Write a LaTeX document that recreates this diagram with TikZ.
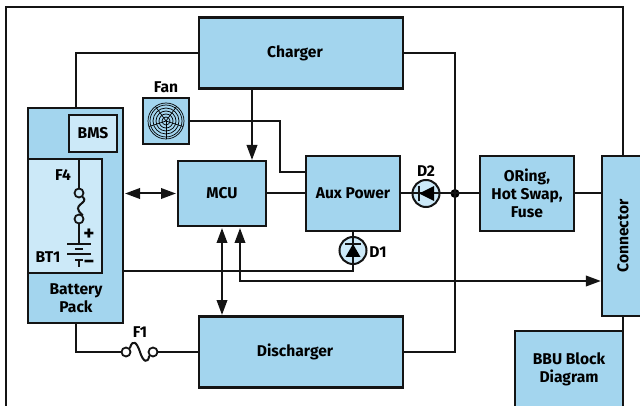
\documentclass[tikz,border=0pt]{standalone}
\usepackage{fontspec}
\setmainfont{Fira Sans}
\usetikzlibrary{arrows.meta}
\definecolor{blockblue}{HTML}{A3D5EE}
\definecolor{paleblue}{HTML}{CCE9F8}
\begin{document}
\begin{tikzpicture}[x=1pt,y=-1pt,line join=miter,
    >={Triangle[length=15pt,width=10.5pt]},
    wire/.style={line width=2pt,draw=black!92},
    block/.style={draw=black!92,fill=blockblue,line width=2.2pt,inner sep=0pt,align=center,font=\fontsize{15.6}{18}\selectfont\bfseries},
    paleblock/.style={block,fill=paleblue},
    tag/.style={inner sep=0pt,align=center,font=\fontsize{15.6}{18}\selectfont\bfseries},
    diode/.style={circle,draw=black!92,fill=paleblue,line width=2pt,minimum size=27pt,inner sep=0pt},
    fusepin/.style={circle,draw=black!92,fill=white,line width=1.8pt,minimum size=9pt,inner sep=0pt},
    plate/.style={line width=1.8pt,draw=black!92}]
  \useasboundingbox (0,0) rectangle (640,406);
  \clip (0,0) rectangle (640,406);
  % blocks
  \node[block,minimum width=204pt,minimum height=71pt] (charger) at (301,53) {Charger\hspace{12pt}};
  \node[block,minimum width=204pt,minimum height=71pt] (discharger) at (301,352) {Discharger\hspace{12pt}};
  \node[block,minimum width=95pt,minimum height=215pt] (battery) at (75.5,215.5) {};
  \node[paleblock,minimum width=48pt,minimum height=37pt] (bms) at (93,133.5) {BMS};
  \node[paleblock,minimum width=74pt,minimum height=114pt] (cell) at (65,216) {};
  \node[tag] (batterytext) at (76,298) {Battery\\Pack};
  \node[block,minimum width=46pt,minimum height=46pt] (fan) at (166,121) {};
  \node[tag] (fantext) at (166,87) {Fan};
  \node[block,minimum width=88pt,minimum height=65pt] (mcu) at (222,193.5) {MCU};
  \node[block,minimum width=94pt,minimum height=75pt] (aux) at (353,193.5) {Aux Power};
  \node[block,minimum width=94pt,minimum height=75pt] (oring) at (527,193.5) {ORing,\\Hot Swap,\\Fuse};
  \node[block,minimum width=60pt,minimum height=160pt] (connector) at (632,236) {};
  \node[tag,rotate=90] (connectortext) at (623,236) {Connector};
  \node[block,minimum width=108pt,minimum height=100pt] (bbu) at (569,381) {};
  \node[tag] (bbutext) at (569,369) {BBU Block\\Diagram};
  \node[diode] (dtwo) at (426,193.5) {};
  \node[diode] (done) at (353,250.5) {};
  \node[tag] (dtwotext) at (426,171) {D2};
  \node[tag] (donetext) at (378,252) {D1};
  \node[tag] (fonetext) at (140,332) {F1};
  \node[tag] (ffourtext) at (63,175) {F4};
  \node[tag] (bttext) at (48,257) {BT1};
  \node[circle,fill=black,minimum size=9pt,inner sep=0pt] (junction) at (455,193.5) {};
  \node[fusepin] (fonea) at (126,352) {};
  \node[fusepin] (foneb) at (153,352) {};
  \node[fusepin,fill=paleblue] (ffoura) at (79,193) {};
  \node[fusepin,fill=paleblue] (ffourb) at (79,219) {};
  % bends and free ends
  \coordinate (framestart) at (6,406);
  \coordinate (framecorner) at (623,7);
  \coordinate (railtop) at (455,53);
  \coordinate (railbottom) at (455,352);
  \coordinate (chargerout) at (252,88);
  \coordinate (mcuin) at (252,160);
  \coordinate (fanbend) at (280,121);
  \coordinate (auxin) at (306,172);
  \coordinate (donebend) at (353,271);
  \coordinate (sensein) at (240,228);
  \coordinate (sensebend) at (240,281);
  \coordinate (cellplate) at (79,244);
  % frame
  \draw[line width=2.2pt,draw=black!92] (framestart) |- (framecorner) -- (framecorner |- connector.north);
  \draw[wire] (framecorner |- connector.south) -- (framecorner |- bbu.north);
  % connectors
  \draw[wire] (charger.west) -| (battery.north);
  \draw[wire] (charger.east) -- (railtop) -- (railbottom) -- (discharger.east);
  \draw[wire,->] (chargerout) -- (mcuin);
  \draw[wire] (fan.east) -- (fanbend) |- (auxin);
  \draw[wire] (mcu.east) -- (aux.west);
  \draw[wire] (aux.east) -- (oring.west);
  \draw[wire] (oring.east) -- (oring.east -| connector.west);
  \draw[wire] (aux.south) -- (donebend) -- (donebend -| battery.east);
  \draw[wire,<->] (125,193.5) -- (176,193.5);
  \draw[wire,<->] (222,228) -- (222,315);
  \draw[wire,<->] (sensein) -- (sensebend) -- (sensebend -| connector.west);
  \draw[wire] (battery.south) |- (fonea.west);
  \draw[wire] (foneb.east) -- (discharger.west);
  \draw[wire] (fonea.north east) .. controls (133,338) and (137,343) .. (140,352) .. controls (143,362) and (148,364) .. (foneb.south west);
  \draw[wire] (cell.north -| ffoura) -- (ffoura.north);
  \draw[wire] (ffoura.south east) .. controls (90,204) and (69,204) .. (ffourb.north east);
  \draw[wire] (ffourb.south) -- (cellplate);
  % battery symbol
  \draw[plate] (67,244) -- (91,244);
  \draw[plate] (75,249) -- (83,249);
  \draw[plate] (67,254) -- (91,254);
  \draw[plate] (75,260) -- (83,260) (79,260) -- (79,267);
  \node[tag,font=\fontsize{21}{21}\selectfont\bfseries] (plustext) at (89,235) {+};
  \node[tag,font=\fontsize{21}{21}\selectfont\bfseries] (minustext) at (89,264) {−};
  % diodes
  \fill[black] (419,193.5) -- (434,186) -- (434,201) -- cycle;
  \draw[plate] (419,186) -- (419,201);
  \fill[black] (353,244) -- (345.5,257) -- (360.5,257) -- cycle;
  \draw[plate] (345,244) -- (361,244);
  % fan grille
  \foreach \r in {4,7,10,13,16,18} \draw[line width=.7pt] (fan.center) circle (\r);
  \foreach \a in {90,162,234,306,18} \draw[line width=.7pt] (fan.center) -- ++(\a:18);
\end{tikzpicture}
\end{document}
